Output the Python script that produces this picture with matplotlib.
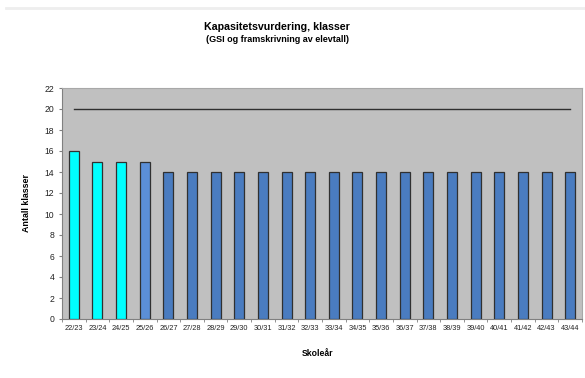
import matplotlib
matplotlib.use("Agg")
import matplotlib.pyplot as plt
import numpy as np
from matplotlib.lines import Line2D

plt.rcParams['font.family'] = ['Liberation Sans', 'DejaVu Sans']

categories = ["22/23", "23/24", "24/25", "25/26", "26/27", "27/28", "28/29", "29/30",
              "30/31", "31/32", "32/33", "33/34", "34/35", "35/36", "36/37", "37/38",
              "38/39", "39/40", "40/41", "41/42", "42/43", "43/44"]
klasser = [16, 15, 15, 15, 14, 14, 14, 14, 14, 14, 14, 14, 14, 14, 14, 14, 14, 14, 14, 14, 14, 14]
kapasitet = 20
bar_colors = ["#00ffff"] * 3 + ["#5b8fd8"] + ["#4a7cc0"] * 18

fig = plt.figure(figsize=(5.85, 3.78), dpi=100)
ax = fig.add_axes([62/585, 1 - 319/378, (582-62)/585, (319-88)/378])
ax.set_facecolor("#c0c0c0")

x = np.arange(len(categories))
ax.bar(x, klasser, width=0.42, color=bar_colors, edgecolor="#303030", linewidth=0.9, zorder=3)
ax.plot([x[0], x[-1]], [kapasitet, kapasitet], color="#303030", linewidth=1.0, zorder=4)

ax.set_xlim(-0.5, len(categories) - 0.5)
ax.set_ylim(0, 22)
ax.set_yticks(range(0, 23, 2))
ax.set_xticks(x)
ax.set_xticklabels(categories, fontsize=5.3, color="#222222")
ax.tick_params(axis='x', length=0, pad=4)
ax.set_xticks(np.arange(-0.5, len(categories), 1), minor=True)
ax.tick_params(axis='x', which='minor', length=2.5, color="#808080", direction='out')
ax.tick_params(axis='y', labelsize=6.2, length=2.5, color="#808080", labelcolor="#222222", pad=3)

for s in ["top", "right"]:
    ax.spines[s].set_color("#a8a8a8")
    ax.spines[s].set_linewidth(0.8)
for s in ["left", "bottom"]:
    ax.spines[s].set_color("#808080")
    ax.spines[s].set_linewidth(0.8)

ax.set_ylabel("Antall klasser", fontsize=6.4, fontweight='bold')
ax.yaxis.set_label_coords((31 - 62) / 520, 0.5)
fig.text(318/585, 1 - 353/378, "Skoleår", fontsize=6.2, fontweight='bold', ha='center', va='center')

fig.text(277/585, 1 - 27/378, "Kapasitetsvurdering, klasser", fontsize=7.7, fontweight='bold',
         ha='center', va='center')
fig.text(277/585, 1 - 39/378, "(GSI og framskrivning av elevtall)", fontsize=6.5, fontweight='bold',
         ha='center', va='center')

fig.add_artist(Line2D([6/585, 1], [1 - 7.5/378, 1 - 7.5/378], color="#eeeeee", linewidth=2,
                      transform=fig.transFigure))

fig.savefig("out.png", dpi=100, facecolor="white")
